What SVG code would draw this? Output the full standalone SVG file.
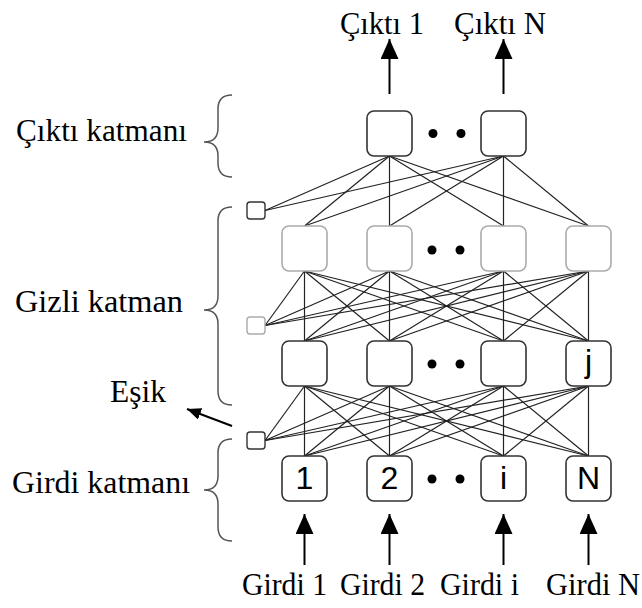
<svg xmlns="http://www.w3.org/2000/svg" width="642" height="608" viewBox="0 0 642 608">
<defs>
<style>
.lbl{font-family:"Liberation Serif","Times New Roman",serif;font-size:31px;fill:#000;}
.num{font-family:"Liberation Sans",Arial,sans-serif;font-size:32px;fill:#000;text-anchor:middle;}
.node{fill:#fff;stroke:#333;stroke-width:1.6;}
.gnode{fill:#fff;stroke:#aaa;stroke-width:1.6;}
.bias{fill:#fff;stroke:#333;stroke-width:1.4;}
.gbias{fill:#fff;stroke:#aaa;stroke-width:1.4;}
.dot{fill:#000;}
.brace{fill:none;stroke:#555;stroke-width:1.5;}
.conn line{stroke:#222;stroke-width:1.2;}
.arr{stroke:#000;stroke-width:2;fill:none;}
</style>
<marker id="ah" markerUnits="userSpaceOnUse" markerWidth="20" markerHeight="18" viewBox="0 0 20 18" refX="20" refY="9" orient="auto">
<path d="M0,0 L20,9 L0,18 z" fill="#000"/>
</marker>
<marker id="ahs" markerUnits="userSpaceOnUse" markerWidth="14" markerHeight="12" viewBox="0 0 14 12" refX="14" refY="6" orient="auto">
<path d="M0,0 L14,6 L0,12 z" fill="#000"/>
</marker>
</defs>
<rect width="642" height="608" fill="#fff"/>

<g id="connectors" class="conn">
<line x1="265" y1="210.5" x2="389.5" y2="156"/>
<line x1="265" y1="210.5" x2="503.5" y2="156"/>
<line x1="389.5" y1="156" x2="304.5" y2="226"/>
<line x1="389.5" y1="156" x2="389.5" y2="226"/>
<line x1="389.5" y1="156" x2="503.5" y2="226"/>
<line x1="389.5" y1="156" x2="588.5" y2="226"/>
<line x1="503.5" y1="156" x2="304.5" y2="226"/>
<line x1="503.5" y1="156" x2="389.5" y2="226"/>
<line x1="503.5" y1="156" x2="503.5" y2="226"/>
<line x1="503.5" y1="156" x2="588.5" y2="226"/>
<line x1="265" y1="325.5" x2="304.5" y2="271"/>
<line x1="265" y1="325.5" x2="389.5" y2="271"/>
<line x1="265" y1="325.5" x2="503.5" y2="271"/>
<line x1="265" y1="325.5" x2="588.5" y2="271"/>
<line x1="304.5" y1="271" x2="304.5" y2="341"/>
<line x1="304.5" y1="271" x2="389.5" y2="341"/>
<line x1="304.5" y1="271" x2="503.5" y2="341"/>
<line x1="304.5" y1="271" x2="588.5" y2="341"/>
<line x1="389.5" y1="271" x2="304.5" y2="341"/>
<line x1="389.5" y1="271" x2="389.5" y2="341"/>
<line x1="389.5" y1="271" x2="503.5" y2="341"/>
<line x1="389.5" y1="271" x2="588.5" y2="341"/>
<line x1="503.5" y1="271" x2="304.5" y2="341"/>
<line x1="503.5" y1="271" x2="389.5" y2="341"/>
<line x1="503.5" y1="271" x2="503.5" y2="341"/>
<line x1="503.5" y1="271" x2="588.5" y2="341"/>
<line x1="588.5" y1="271" x2="304.5" y2="341"/>
<line x1="588.5" y1="271" x2="389.5" y2="341"/>
<line x1="588.5" y1="271" x2="503.5" y2="341"/>
<line x1="588.5" y1="271" x2="588.5" y2="341"/>
<line x1="265" y1="440.5" x2="304.5" y2="386"/>
<line x1="265" y1="440.5" x2="389.5" y2="386"/>
<line x1="265" y1="440.5" x2="503.5" y2="386"/>
<line x1="265" y1="440.5" x2="588.5" y2="386"/>
<line x1="304.5" y1="386" x2="304.5" y2="456"/>
<line x1="304.5" y1="386" x2="389.5" y2="456"/>
<line x1="304.5" y1="386" x2="503.5" y2="456"/>
<line x1="304.5" y1="386" x2="588.5" y2="456"/>
<line x1="389.5" y1="386" x2="304.5" y2="456"/>
<line x1="389.5" y1="386" x2="389.5" y2="456"/>
<line x1="389.5" y1="386" x2="503.5" y2="456"/>
<line x1="389.5" y1="386" x2="588.5" y2="456"/>
<line x1="503.5" y1="386" x2="304.5" y2="456"/>
<line x1="503.5" y1="386" x2="389.5" y2="456"/>
<line x1="503.5" y1="386" x2="503.5" y2="456"/>
<line x1="503.5" y1="386" x2="588.5" y2="456"/>
<line x1="588.5" y1="386" x2="304.5" y2="456"/>
<line x1="588.5" y1="386" x2="389.5" y2="456"/>
<line x1="588.5" y1="386" x2="503.5" y2="456"/>
<line x1="588.5" y1="386" x2="588.5" y2="456"/>
</g>

<g id="arrows">
<line class="arr" x1="389.5" y1="94" x2="389.5" y2="39" marker-end="url(#ah)"/>
<line class="arr" x1="503.5" y1="94" x2="503.5" y2="39" marker-end="url(#ah)"/>
<line class="arr" x1="304.5" y1="565" x2="304.5" y2="514" marker-end="url(#ah)"/>
<line class="arr" x1="389.5" y1="565" x2="389.5" y2="514" marker-end="url(#ah)"/>
<line class="arr" x1="503.5" y1="565" x2="503.5" y2="514" marker-end="url(#ah)"/>
<line class="arr" x1="588.5" y1="565" x2="588.5" y2="514" marker-end="url(#ah)"/>
<line class="arr" x1="232" y1="426" x2="187" y2="409" marker-end="url(#ahs)"/>
</g>

<g id="output-layer">
<rect id="out1" class="node" x="367" y="111" width="45" height="45" rx="7"/>
<rect id="outN" class="node" x="481" y="111" width="45" height="45" rx="7"/>
<circle class="dot" cx="433" cy="133.5" r="4.5"/>
<circle class="dot" cx="461" cy="133.5" r="4.5"/>
</g>

<g id="hidden-upper">
<rect class="gnode" x="282" y="226" width="45" height="45" rx="7"/>
<rect class="gnode" x="367" y="226" width="45" height="45" rx="7"/>
<rect class="gnode" x="481" y="226" width="45" height="45" rx="7"/>
<rect class="gnode" x="566" y="226" width="45" height="45" rx="7"/>
<circle class="dot" cx="432" cy="250" r="4.5"/>
<circle class="dot" cx="460" cy="250" r="4.5"/>
</g>

<g id="hidden-lower">
<rect class="node" x="282" y="341" width="45" height="45" rx="7"/>
<rect class="node" x="367" y="341" width="45" height="45" rx="7"/>
<rect class="node" x="481" y="341" width="45" height="45" rx="7"/>
<rect class="node" x="566" y="341" width="45" height="45" rx="7"/>
<text class="num" x="588.5" y="372">j</text>
<circle class="dot" cx="432" cy="364" r="4.5"/>
<circle class="dot" cx="460" cy="364" r="4.5"/>
</g>

<g id="input-layer">
<rect class="node" x="282" y="456" width="45" height="45" rx="7"/>
<rect class="node" x="367" y="456" width="45" height="45" rx="7"/>
<rect class="node" x="481" y="456" width="45" height="45" rx="7"/>
<rect class="node" x="566" y="456" width="45" height="45" rx="7"/>
<text class="num" x="304.5" y="489">1</text>
<text class="num" x="389.5" y="489">2</text>
<text class="num" x="503.5" y="489">i</text>
<text class="num" x="588.5" y="489">N</text>
<circle class="dot" cx="432" cy="479" r="4.5"/>
<circle class="dot" cx="460" cy="479" r="4.5"/>
</g>

<g id="bias-nodes">
<rect id="bias1" class="bias" x="247" y="202" width="18" height="17" rx="3"/>
<rect id="bias2" class="gbias" x="247" y="317" width="18" height="17" rx="3"/>
<rect id="bias3" class="bias" x="247" y="432" width="18" height="17" rx="3"/>
</g>

<g id="braces">
<path class="brace" d="M232,95 Q218,95 218,109 L218,128 Q218,142 204,142 Q218,142 218,156 L218,163 Q218,177 232,177"/>
<path class="brace" d="M232,207 Q218,207 218,221 L218,296 Q218,310 204,310 Q218,310 218,324 L218,391 Q218,405 232,405"/>
<path class="brace" d="M232,439 Q218,439 218,453 L218,476 Q218,490 204,490 Q218,490 218,504 L218,527 Q218,541 232,541"/>
</g>

<g id="labels">
<text class="lbl" x="340" y="34" textLength="84" lengthAdjust="spacingAndGlyphs">Çıktı 1</text>
<text class="lbl" x="454" y="34" textLength="92" lengthAdjust="spacingAndGlyphs">Çıktı N</text>
<text class="lbl" x="16" y="141" textLength="171" lengthAdjust="spacingAndGlyphs">Çıktı katmanı</text>
<text class="lbl" x="15" y="312" textLength="168" lengthAdjust="spacingAndGlyphs">Gizli katman</text>
<text class="lbl" x="110" y="402" textLength="56" lengthAdjust="spacingAndGlyphs">Eşik</text>
<text class="lbl" x="12" y="493" textLength="178" lengthAdjust="spacingAndGlyphs">Girdi katmanı</text>
<text class="lbl" x="242" y="595" textLength="85" lengthAdjust="spacingAndGlyphs">Girdi 1</text>
<text class="lbl" x="340" y="595" textLength="85" lengthAdjust="spacingAndGlyphs">Girdi 2</text>
<text class="lbl" x="440" y="595" textLength="79" lengthAdjust="spacingAndGlyphs">Girdi i</text>
<text class="lbl" x="546" y="595" textLength="94" lengthAdjust="spacingAndGlyphs">Girdi N</text>
</g>
</svg>
